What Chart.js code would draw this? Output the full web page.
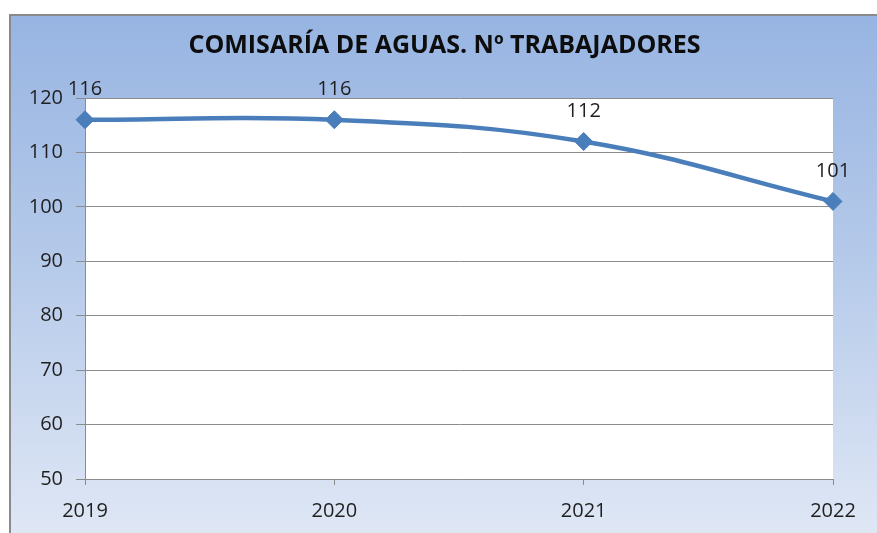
<!DOCTYPE html>
<html>
<head>
<meta charset="utf-8">
<script src="https://cdn.jsdelivr.net/npm/chart.js@4"></script>
<style>
    html, body { margin: 0; padding: 0; background: #ffffff; }
    #wrap { width: 877px; height: 533px; position: relative; }
</style>
</head>
<body>
<div id="wrap"><canvas id="trabajadoresChart"></canvas></div>
<script>
const years = ['2019', '2020', '2021', '2022'];
const trabajadores = [116, 116, 112, 101];
const yMin = 50;
const yMax = 120;
const yStep = 10;

const chartTitle = 'COMISARÍA DE AGUAS. Nº TRABAJADORES';

/* ---- Background: blue gradient panel with grey frame ---- */
const panelBackground = {
    id: 'panelBackground',
    beforeDraw(chart) {
        const { ctx, width, height, chartArea } = chart;
        ctx.save();
        const grad = ctx.createLinearGradient(0, 14, 0, height);
        grad.addColorStop(0, '#97b4e2');
        grad.addColorStop(0.5, '#b7cbea');
        grad.addColorStop(1, '#dfe7f5');
        ctx.fillStyle = grad;
        ctx.fillRect(9, 14, width - 9, height - 14);
        ctx.strokeStyle = '#8a8a8a';
        ctx.lineWidth = 2;
        ctx.beginPath();
        ctx.moveTo(10, height);
        ctx.lineTo(10, 15);
        ctx.lineTo(width, 15);
        ctx.stroke();
        // white plot area
        ctx.fillStyle = '#ffffff';
        ctx.fillRect(chartArea.left, chartArea.top, chartArea.right - chartArea.left, chartArea.bottom - chartArea.top);
        ctx.restore();
    }
};

/* ---- Value labels above each point ---- */
const valueLabels = {
    id: 'valueLabels',
    afterDatasetsDraw(chart) {
        const { ctx } = chart;
        const meta = chart.getDatasetMeta(0);
        ctx.save();
        ctx.font = '20px "Open Sans"';
        ctx.fillStyle = '#1f1f1f';
        ctx.textAlign = 'center';
        ctx.textBaseline = 'middle';
        meta.data.forEach((pt, i) => {
            ctx.fillText(String(trabajadores[i]), pt.x, pt.y - 30);
        });
        ctx.restore();
    }
};

new Chart(document.getElementById('trabajadoresChart'), {
    type: 'line',
    data: {
        labels: years,
        datasets: [{
            label: 'Nº trabajadores',
            data: trabajadores,
            borderColor: '#4a7ebb',
            backgroundColor: '#4a7ebb',
            borderWidth: 4.5,
            tension: 0.4,
            pointStyle: 'rectRot',
            pointRadius: 9,
            pointHoverRadius: 9,
            pointBorderWidth: 1,
            pointBorderColor: '#4a7ebb',
            fill: false,
        }],
    },
    options: {
        responsive: true,
        maintainAspectRatio: false,
        animation: false,
        // small left padding keeps the title centred where the reference has it
        layout: { padding: { left: 12, right: 0, top: 0, bottom: 0 } },
        plugins: {
            legend: { display: false },
            tooltip: { enabled: false },
            title: {
                display: true,
                text: chartTitle,
                color: '#0d0d0d',
                font: { family: 'Open Sans', size: 25, weight: 'bold' },
                padding: { top: 31, bottom: 37 },
            },
        },
        scales: {
            x: {
                offset: false,
                grid: {
                    drawOnChartArea: false,
                    drawTicks: true,
                    tickLength: 6,
                    color: '#8c8c8c',
                },
                border: { color: '#8c8c8c', width: 1 },
                ticks: {
                    color: '#1f1f1f',
                    font: { family: 'Open Sans', size: 20 },
                    padding: 14,
                    maxRotation: 0,
                },
                afterFit(scale) { scale.height = 54; },
            },
            y: {
                min: yMin,
                max: yMax,
                grid: {
                    color: '#8c8c8c',
                    tickLength: 9,
                    drawTicks: true,
                },
                border: { color: '#8c8c8c', width: 1 },
                ticks: {
                    stepSize: yStep,
                    color: '#1f1f1f',
                    font: { family: 'Open Sans', size: 20 },
                    padding: 13,
                },
                afterFit(scale) { scale.width = 73; },
            },
            // empty right-hand spacer axis so the plot ends where the reference's does
            ySpacer: {
                position: 'right',
                min: yMin,
                max: yMax,
                grid: { display: false },
                border: { display: false },
                ticks: { display: false },
                afterFit(scale) { scale.width = 44; },
            },
        },
    },
    plugins: [panelBackground, valueLabels],
});
</script>
</body>
</html>
